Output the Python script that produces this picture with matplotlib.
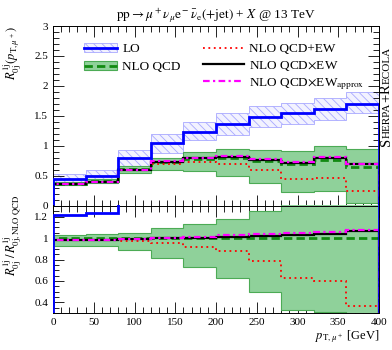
import numpy as np
import matplotlib
matplotlib.use('Agg')
import matplotlib.pyplot as plt
from matplotlib.ticker import MultipleLocator, FuncFormatter
from matplotlib.patches import Patch
from matplotlib.lines import Line2D

plt.rcParams['font.family'] = 'serif'
plt.rcParams['font.serif'] = ['Liberation Serif', 'DejaVu Serif']
plt.rcParams['mathtext.fontset'] = 'stix'
plt.rcParams['hatch.linewidth'] = 0.6

# bin edges in pT(mu+) [GeV]
pt_edges = [0, 40, 80, 120, 160, 200, 240, 280, 320, 360, 400]

# upper panel: R_0j^1j
lo = [0.445, 0.50, 0.79, 1.04, 1.23, 1.37, 1.48, 1.54, 1.61, 1.69]
lo_down = [0.39, 0.44, 0.625, 0.87, 1.09, 1.18, 1.31, 1.37, 1.43, 1.54]
lo_up = [0.525, 0.585, 0.92, 1.19, 1.40, 1.55, 1.66, 1.71, 1.80, 1.90]
nlo_qcd = [0.365, 0.405, 0.605, 0.735, 0.785, 0.80, 0.745, 0.695, 0.765, 0.645]
nlo_qcd_down = [0.34, 0.38, 0.54, 0.595, 0.57, 0.50, 0.37, 0.23, 0.235, 0.045]
nlo_qcd_up = [0.39, 0.44, 0.66, 0.80, 0.89, 0.94, 0.93, 0.91, 1.0, 0.94]
nlo_add = [0.36, 0.40, 0.59, 0.70, 0.72, 0.70, 0.59, 0.44, 0.46, 0.24]
nlo_mult = [0.36, 0.40, 0.60, 0.735, 0.79, 0.81, 0.76, 0.71, 0.79, 0.69]
nlo_approx = [0.36, 0.40, 0.60, 0.74, 0.80, 0.825, 0.775, 0.725, 0.81, 0.695]

# lower panel: ratio to NLO QCD
r_lo = [1.22, 1.235, 1.33, 1.41, 1.57, 1.71, 1.99, 2.2, 2.1, 2.6]
r_qcd_down = [0.93, 0.93, 0.885, 0.81, 0.73, 0.63, 0.50, 0.33, 0.31, 0.07]
r_qcd_up = [1.03, 1.035, 1.05, 1.09, 1.13, 1.18, 1.25, 1.32, 1.32, 1.46]
r_qcd = [1.0] * 10
r_add = [0.98, 0.98, 0.975, 0.955, 0.915, 0.875, 0.79, 0.63, 0.60, 0.37]
r_mult = [0.985, 0.985, 0.99, 1.0, 1.005, 1.015, 1.02, 1.025, 1.035, 1.065]
r_approx = [0.985, 0.985, 0.99, 1.005, 1.015, 1.03, 1.04, 1.045, 1.055, 1.075]

c_lo = '#0000ff'
c_qcd = '#128a12'
c_band = '#8fd19a'
c_band_edge = '#4cab55'
c_hatch = '#a8a8ff'

fig = plt.figure(figsize=(3.92, 3.5), dpi=100)
L, R = 53 / 392, 379 / 392
ax1 = fig.add_axes([L, 1 - 205.5 / 350, R - L, (205.5 - 26) / 350])
ax2 = fig.add_axes([L, 1 - 313 / 350, R - L, (313 - 205.5) / 350], sharex=ax1)

# upper panel
ax1.stairs(lo_up, pt_edges, baseline=lo_down, fill=True, facecolor=(0.9, 0.9, 1.0, 0.5),
           edgecolor=c_hatch, hatch='\\\\\\\\', linewidth=0.6, zorder=1)
ax1.stairs(nlo_qcd_up, pt_edges, baseline=nlo_qcd_down, fill=True, facecolor=c_band,
           edgecolor=c_band_edge, linewidth=0.8, zorder=2)
ax1.stairs(lo, pt_edges, color=c_lo, linewidth=2.0, zorder=5)
ax1.stairs(nlo_qcd, pt_edges, color=c_qcd, linewidth=2.0, linestyle=(0, (3, 1.5)), zorder=3)
ax1.stairs(nlo_add, pt_edges, color='red', linewidth=1.3, linestyle=(0, (1, 2)), zorder=4)
ax1.stairs(nlo_mult, pt_edges, color='black', linewidth=1.6, zorder=4)
ax1.stairs(nlo_approx, pt_edges, color='#ff00ff', linewidth=1.6, linestyle=(0, (3, 1.5, 1, 1.5)), zorder=4)

# lower panel
ax2.stairs(r_qcd_up, pt_edges, baseline=r_qcd_down, fill=True, facecolor=c_band,
           edgecolor=c_band_edge, linewidth=0.8, zorder=2)
ax2.stairs(r_lo, pt_edges, color=c_lo, linewidth=2.0, zorder=5)
ax2.stairs(r_qcd, pt_edges, color=c_qcd, linewidth=2.0, linestyle=(0, (3, 1.5)), zorder=3)
ax2.stairs(r_add, pt_edges, color='red', linewidth=1.3, linestyle=(0, (1, 2)), zorder=4)
ax2.stairs(r_mult, pt_edges, color='black', linewidth=1.6, zorder=4)
ax2.stairs(r_approx, pt_edges, color='#ff00ff', linewidth=1.6, linestyle=(0, (3, 1.5, 1, 1.5)), zorder=4)

fmt = FuncFormatter(lambda v, p: '%g' % round(v, 2))
ax1.set_xlim(0, 400)
ax1.set_ylim(0, 3)
ax2.set_ylim(0.3, 1.305)
ax1.yaxis.set_major_locator(MultipleLocator(0.5))
ax1.yaxis.set_minor_locator(MultipleLocator(0.1))
ax2.yaxis.set_major_locator(MultipleLocator(0.2))
ax2.yaxis.set_minor_locator(MultipleLocator(0.05))
ax2.xaxis.set_major_locator(MultipleLocator(50))
ax2.xaxis.set_minor_locator(MultipleLocator(10))
for ax in (ax1, ax2):
    ax.yaxis.set_major_formatter(fmt)
    ax.tick_params(which='both', direction='in', top=True, right=True, labelsize=8, width=0.6)
    ax.tick_params(which='major', length=8)
    ax.tick_params(which='minor', length=4)
    for sp in ax.spines.values():
        sp.set_linewidth(0.7)
ax1.tick_params(labelbottom=False)
ax2.xaxis.set_major_formatter(fmt)

ax1.set_ylabel(r'$R^{1\mathrm{j}}_{0\mathrm{j}}(p_{\mathrm{T},\mu^+})$', loc='top', fontsize=9)
ax2.set_ylabel(r'$R^{1\mathrm{j}}_{0\mathrm{j}}\,/\,R^{1\mathrm{j}}_{0\mathrm{j},\mathrm{NLO\ QCD}}$',
               loc='top', fontsize=9)
ax1.yaxis.set_label_coords(-0.09, 1.0)
ax2.yaxis.set_label_coords(-0.09, 1.1)
ax2.set_xlabel(r'$p_{\mathrm{T},\mu^+}$ [GeV]', loc='right', fontsize=9, labelpad=1)
ax1.set_title(r'$\mathrm{pp}\to\mu^+\nu_\mu\mathrm{e}^-\bar{\nu}_\mathrm{e}(+\mathrm{jet})$ + $X$ @ 13 TeV',
              fontsize=9.5, pad=5)

# legend
h_lo = (Patch(facecolor=(0.9, 0.9, 1.0, 0.5), edgecolor=c_hatch, hatch='\\\\\\\\', linewidth=0.6),
        Line2D([], [], color=c_lo, linewidth=2.0))
h_qcd = (Patch(facecolor=c_band, edgecolor=c_band_edge, linewidth=0.8),
         Line2D([], [], color=c_qcd, linewidth=2.0, linestyle=(0, (3, 1.5))))
leg1 = ax1.legend([h_lo, h_qcd], ['LO', 'NLO QCD'], loc='upper left',
                  bbox_to_anchor=(0.095, 0.905), frameon=False, fontsize=9.5,
                  handlelength=2.5, handleheight=0.6, handletextpad=0.4,
                  labelspacing=0.45, borderpad=0, borderaxespad=0)
ax1.add_artist(leg1)
h_add = Line2D([], [], color='red', linewidth=1.3, linestyle=(0, (1, 2)))
h_mult = Line2D([], [], color='black', linewidth=1.6)
h_appr = Line2D([], [], color='#ff00ff', linewidth=1.6, linestyle=(0, (3, 1.5, 1, 1.5)))
ax1.legend([h_add, h_mult, h_appr],
           ['NLO QCD+EW', r'NLO QCD$\times$EW', r'NLO QCD$\times$EW$_{\mathrm{approx}}$'],
           loc='upper left', bbox_to_anchor=(0.46, 0.905), frameon=False, fontsize=9.5,
           handlelength=3.1, handletextpad=0.4, labelspacing=0.25,
           borderpad=0, borderaxespad=0)

# Sherpa+Recola in small caps, rotated along the right edge
fig.canvas.draw()
renderer = fig.canvas.get_renderer()
ypos = 350 - 146
for s, size in [('S', 10.5), ('HERPA', 8), ('+', 10.5), ('R', 10.5), ('ECOLA', 8)]:
    t = fig.text(390 / 392, ypos / 350, s, rotation=90, rotation_mode='anchor',
                 ha='left', va='baseline', fontsize=size)
    bb = t.get_window_extent(renderer)
    ypos += bb.height

fig.savefig('out.png', dpi=100)
